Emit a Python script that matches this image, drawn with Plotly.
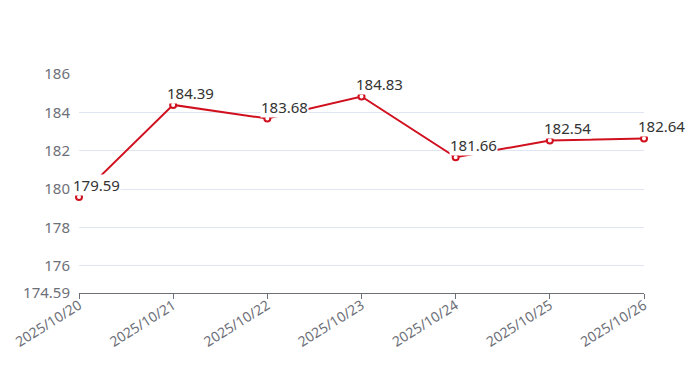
import plotly.graph_objects as go

dates = ["2025/10/20", "2025/10/21", "2025/10/22", "2025/10/23", "2025/10/24", "2025/10/25", "2025/10/26"]
values = [179.59, 184.39, 183.68, 184.83, 181.66, 182.54, 182.64]
y_ticks = [174.59, 176, 178, 180, 182, 184, 186]
y_min = 174.59
y_max = 186

line_color = "#D0101E"
axis_color = "#6E7079"
font_family = "Noto Sans, Roboto, sans-serif"

fig = go.Figure()
fig.add_trace(go.Scatter(
    x=dates, y=values, mode="lines+markers",
    line=dict(color=line_color, width=2),
    marker=dict(symbol="circle", size=6, color="white", line=dict(color=line_color, width=2)),
    hoverinfo="skip", cliponaxis=False,
))

annotations = []
for d, v in zip(dates, values):
    annotations.append(dict(
        x=d, y=v, xref="x", yref="y", text=f"{v:.2f}", showarrow=False,
        xanchor="left", yanchor="bottom", xshift=-7, yshift=1,
        bgcolor="white", borderpad=0,
        font=dict(family=font_family, size=15, color="#333333"),
    ))

fig.update_layout(
    width=700, height=377,
    margin=dict(l=71, r=64, t=66, b=92, autoexpand=False),
    paper_bgcolor="white", plot_bgcolor="white",
    showlegend=False,
    annotations=annotations,
    font=dict(family=font_family, size=15, color=axis_color),
)
fig.update_xaxes(
    type="category", range=[0, len(dates) - 1], automargin=False,
    showline=True, linecolor=axis_color, linewidth=1,
    ticks="outside", ticklen=5, tickcolor=axis_color, tickwidth=1,
    tickangle=-32, showgrid=False, zeroline=False,
    ticklabelstandoff=-7,
    tickfont=dict(family=font_family, size=14, color=axis_color),
)
fig.update_yaxes(
    range=[y_min, y_max], tickvals=y_ticks, automargin=False,
    ticktext=[("%g" % t) for t in y_ticks],
    showgrid=True, gridcolor="#E0E6F1", gridwidth=1,
    showline=False, zeroline=False, ticks="",
    ticklabelstandoff=8,
    tickfont=dict(family=font_family, size=15, color=axis_color),
)

fig.write_html("out.html")
